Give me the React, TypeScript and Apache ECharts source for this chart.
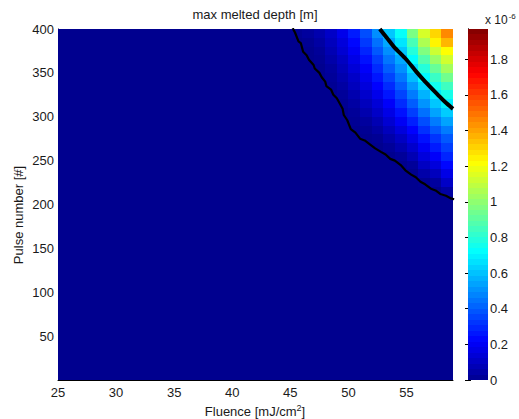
import React, { useEffect, useRef } from 'react';
import * as echarts from 'echarts';

// Grid of the pcolor map: cell left edges (fluence, mJ/cm^2) and bottom edges (pulse number)
const fluenceStarts = [25, 26, 27, 28, 29, 30, 31, 32, 33, 34, 35, 36, 37, 38, 39, 40, 41, 42, 43, 44, 45, 46, 47, 48, 49, 50, 51, 52, 53, 54, 55, 56, 57, 58];
const pulseStarts = [0, 10, 20, 30, 40, 50, 60, 70, 80, 90, 100, 110, 120, 130, 140, 150, 160, 170, 180, 190, 200, 210, 220, 230, 240, 250, 260, 270, 280, 290, 300, 310, 320, 330, 340, 350, 360, 370, 380, 390];
const FLUENCE_STEP = 1;
const PULSE_STEP = 10;

// Non-zero melted depth (x 1e-6 m); everything else is 0
const meltedFluence = [45, 46, 47, 48, 49, 50, 51, 52, 53, 54, 55, 56, 57, 58];
const meltedPulses = [200, 210, 220, 230, 240, 250, 260, 270, 280, 290, 300, 310, 320, 330, 340, 350, 360, 370, 380, 390];
const meltedDepth = [
  /* 45 */ [0, 0, 0, 0, 0, 0, 0, 0, 0, 0, 0, 0, 0, 0, 0, 0, 0, 0, 0, 0.01],
  /* 46 */ [0, 0, 0, 0, 0, 0, 0, 0, 0, 0, 0, 0, 0, 0, 0, 0, 0, 0, 0.01, 0.03],
  /* 47 */ [0, 0, 0, 0, 0, 0, 0, 0, 0, 0, 0, 0, 0, 0, 0, 0, 0.01, 0.02, 0.04, 0.06],
  /* 48 */ [0, 0, 0, 0, 0, 0, 0, 0, 0, 0, 0, 0, 0, 0.01, 0.02, 0.03, 0.05, 0.07, 0.09, 0.11],
  /* 49 */ [0, 0, 0, 0, 0, 0, 0, 0, 0, 0, 0, 0.01, 0.02, 0.04, 0.06, 0.08, 0.1, 0.13, 0.15, 0.18],
  /* 50 */ [0, 0, 0, 0, 0, 0, 0, 0, 0, 0.01, 0.02, 0.04, 0.06, 0.09, 0.11, 0.14, 0.17, 0.2, 0.23, 0.27],
  /* 51 */ [0, 0, 0, 0, 0, 0, 0, 0, 0.01, 0.03, 0.06, 0.09, 0.12, 0.15, 0.18, 0.21, 0.25, 0.29, 0.33, 0.37],
  /* 52 */ [0, 0, 0, 0, 0, 0, 0, 0.01, 0.04, 0.07, 0.11, 0.14, 0.18, 0.22, 0.26, 0.3, 0.34, 0.39, 0.44, 0.5],
  /* 53 */ [0, 0, 0, 0, 0, 0, 0.02, 0.05, 0.09, 0.13, 0.17, 0.21, 0.26, 0.3, 0.35, 0.4, 0.45, 0.5, 0.55, 0.61],
  /* 54 */ [0, 0, 0, 0, 0, 0.02, 0.06, 0.1, 0.15, 0.2, 0.25, 0.3, 0.35, 0.4, 0.45, 0.5, 0.55, 0.61, 0.67, 0.73],
  /* 55 */ [0, 0, 0, 0, 0.02, 0.07, 0.12, 0.17, 0.22, 0.28, 0.34, 0.4, 0.46, 0.52, 0.59, 0.65, 0.72, 0.79, 0.86, 0.96],
  /* 56 */ [0, 0, 0.01, 0.05, 0.1, 0.15, 0.2, 0.25, 0.31, 0.37, 0.44, 0.51, 0.57, 0.64, 0.71, 0.79, 0.88, 0.97, 1.06, 1.14],
  /* 57 */ [0, 0, 0.03, 0.09, 0.15, 0.21, 0.27, 0.32, 0.39, 0.46, 0.54, 0.61, 0.68, 0.75, 0.83, 0.92, 1.02, 1.12, 1.24, 1.3],
  /* 58 */ [0, 0.04, 0.11, 0.17, 0.23, 0.29, 0.34, 0.39, 0.46, 0.54, 0.62, 0.69, 0.76, 0.84, 0.94, 1.04, 1.13, 1.22, 1.36, 1.45],
];

// Contour lines [fluence, pulse]
const upperContour = [[52.7, 400], [53.3, 390], [53.9, 380], [55.0, 365], [55.8, 352], [56.6, 340], [57.7, 325], [58.3, 317], [59, 309]];
const lowerContour = [
  [45.2, 401], [45.4, 396], [45.7, 386], [45.9, 384], [46.1, 374], [46.4, 370], [46.6, 365], [47.0, 359], [47.1, 355],
  [47.5, 350], [47.7, 345], [48.0, 340], [48.1, 335], [48.5, 331], [48.7, 325], [49.0, 321], [49.3, 314], [49.5, 309],
  [49.6, 302], [49.9, 296], [50.2, 286], [50.6, 282], [51.0, 275], [51.4, 273], [51.9, 268], [52.3, 264], [52.8, 260],
  [53.2, 257], [53.6, 252], [54.0, 250], [54.5, 245], [54.9, 239], [55.4, 234], [55.8, 231], [56.2, 226], [56.6, 223],
  [57.1, 218], [57.5, 216], [57.9, 212], [58.4, 210], [58.8, 207], [59.1, 206],
];

// Colour bar
const CMAX = 1.97;
const COLOR_LEVELS = 64;

function jetColors(m: number): string[] {
  const n = Math.ceil(m / 4);
  const u: number[] = [];
  for (let i = 1; i <= n; i++) u.push(i / n);
  for (let i = 1; i <= n - 1; i++) u.push(1);
  for (let i = n; i >= 1; i--) u.push(i / n);
  const g0 = Math.ceil(n / 2) - (m % 4 === 1 ? 1 : 0);
  const J = Array.from({ length: m }, () => [0, 0, 0]);
  u.forEach((val, k) => {
    const g = g0 + k + 1;
    const r = g + n;
    const b = g - n;
    if (r >= 1 && r <= m) J[r - 1][0] = val;
    if (g >= 1 && g <= m) J[g - 1][1] = val;
    if (b >= 1 && b <= m) J[b - 1][2] = val;
  });
  const hex = (x: number) => Math.round(x * 255).toString(16).padStart(2, '0');
  return J.map(([r, g, b]) => '#' + hex(r) + hex(g) + hex(b));
}

const FONT = '"Liberation Sans", Arial, sans-serif';
const TXT = '#1a1a1a';

function cellRect(api: any, x0: number, y0: number, x1: number, y1: number) {
  const a = api.coord([x0, y1]);
  const b = api.coord([x1, y0]);
  const left = Math.round(a[0]);
  const top = Math.round(a[1]);
  const right = Math.round(b[0]);
  const bottom = Math.round(b[1]);
  return { x: left, y: top, width: right - left, height: bottom - top };
}

export default function App() {
  const ref = useRef<HTMLDivElement>(null);
  useEffect(() => {
    if (!ref.current) return;
    const chart = echarts.init(ref.current, null, { renderer: 'svg' });

    const mapData: number[][] = [];
    for (const f of fluenceStarts) {
      for (const p of pulseStarts) {
        const i = meltedFluence.indexOf(f);
        const j = meltedPulses.indexOf(p);
        const v = i >= 0 && j >= 0 ? meltedDepth[i][j] : 0;
        mapData.push([f, p, v]);
      }
    }
    const barData: number[][] = [];
    for (let k = 0; k < COLOR_LEVELS; k++) {
      const lo = (k * CMAX) / COLOR_LEVELS;
      const hi = ((k + 1) * CMAX) / COLOR_LEVELS;
      barData.push([lo, hi, (lo + hi) / 2]);
    }

    const option: any = {
      animation: false,
      grid: [
        { left: 58, top: 29, width: 395, height: 351 },
        { left: 468, top: 29, width: 20, height: 351 },
      ],
      xAxis: [
        {
          type: 'value', gridIndex: 0, min: 25, max: 59, interval: 5,
          axisLine: { show: true, lineStyle: { color: '#000', width: 1 } },
          axisTick: { show: false },
          splitLine: { show: false },
          axisLabel: { showMaxLabel: false, color: TXT, fontFamily: FONT, fontSize: 13, margin: 6 },
        },
        {
          type: 'value', gridIndex: 1, min: 0, max: 1,
          axisLine: { show: false }, axisTick: { show: false }, axisLabel: { show: false }, splitLine: { show: false },
        },
      ],
      yAxis: [
        {
          type: 'value', gridIndex: 0, min: 0, max: 400, interval: 50,
          axisLine: { show: true, lineStyle: { color: '#000', width: 1 } },
          axisTick: { show: false },
          splitLine: { show: false },
          axisLabel: { showMinLabel: false, color: TXT, fontFamily: FONT, fontSize: 13, margin: 4 },
        },
        {
          type: 'value', gridIndex: 1, min: 0, max: CMAX, interval: 0.2, position: 'right',
          axisLine: { show: true, lineStyle: { color: '#000', width: 1 } },
          axisTick: { show: true, inside: true, length: 3, lineStyle: { color: '#000' } },
          splitLine: { show: false },
          axisLabel: { showMaxLabel: false, color: TXT, fontFamily: FONT, fontSize: 13, margin: 2 },
        },
        {
          type: 'value', gridIndex: 1, min: 0, max: CMAX, interval: 0.2, position: 'left',
          axisLine: { show: true, lineStyle: { color: '#000', width: 1 } },
          axisTick: { show: true, inside: true, length: 3, lineStyle: { color: '#000' } },
          splitLine: { show: false },
          axisLabel: { show: false },
        },
      ],
      visualMap: {
        type: 'continuous', show: false, min: 0, max: CMAX, dimension: 2, seriesIndex: [0, 3],
        inRange: { color: jetColors(COLOR_LEVELS) },
      },
      series: [
        {
          type: 'custom', xAxisIndex: 0, yAxisIndex: 0, data: mapData, z: 1,
          renderItem: (params: any, api: any) => {
            const f = api.value(0);
            const p = api.value(1);
            return {
              type: 'rect',
              shape: cellRect(api, f, p, f + FLUENCE_STEP, p + PULSE_STEP),
              style: { fill: api.visual('color') },
            };
          },
        },
        {
          type: 'line', xAxisIndex: 0, yAxisIndex: 0, data: upperContour, symbol: 'none', smooth: 0.3, z: 5,
          lineStyle: { color: '#000', width: 4 },
        },
        {
          type: 'line', xAxisIndex: 0, yAxisIndex: 0, data: lowerContour, symbol: 'none', z: 5,
          lineStyle: { color: '#000', width: 2.2 },
        },
        {
          type: 'custom', xAxisIndex: 1, yAxisIndex: 1, data: barData, z: 1,
          renderItem: (params: any, api: any) => {
            return {
              type: 'rect',
              shape: cellRect(api, 0, api.value(0), 1, api.value(1)),
              style: { fill: api.visual('color') },
            };
          },
        },
      ],
      graphic: [
        {
          type: 'text', x: 255, y: 14, z: 10,
          style: { text: 'max melted depth [m]', fill: TXT, font: `13px ${FONT}`, textAlign: 'center', textVerticalAlign: 'middle' },
        },
        {
          type: 'text', x: 255, y: 411, z: 10,
          style: {
            text: '{a|Fluence [mJ/cm}{s|2}{a|]}',
            rich: {
              a: { fill: TXT, fontFamily: FONT, fontSize: 13 },
              s: { fill: TXT, fontFamily: FONT, fontSize: 9, verticalAlign: 'top', padding: [0, 0, 6, 0] },
            },
            textAlign: 'center', textVerticalAlign: 'middle',
          },
        },
        {
          type: 'text', x: 18, y: 215, rotation: Math.PI / 2, z: 10,
          style: { text: 'Pulse number [#]', fill: TXT, font: `13px ${FONT}`, textAlign: 'center', textVerticalAlign: 'middle' },
        },
        {
          type: 'text', x: 485, y: 12, z: 10,
          style: {
            text: '{a|x 10}{s|-6}',
            rich: {
              a: { fill: TXT, fontFamily: FONT, fontSize: 12 },
              s: { fill: TXT, fontFamily: FONT, fontSize: 8, padding: [0, 0, 8, 1] },
            },
          },
        },
      ],
    };
    chart.setOption(option);
    return () => chart.dispose();
  }, []);
  return <div ref={ref} style={{ width: 519, height: 419, position: 'absolute', left: 0, top: 0, background: '#fff' }} />;
}
